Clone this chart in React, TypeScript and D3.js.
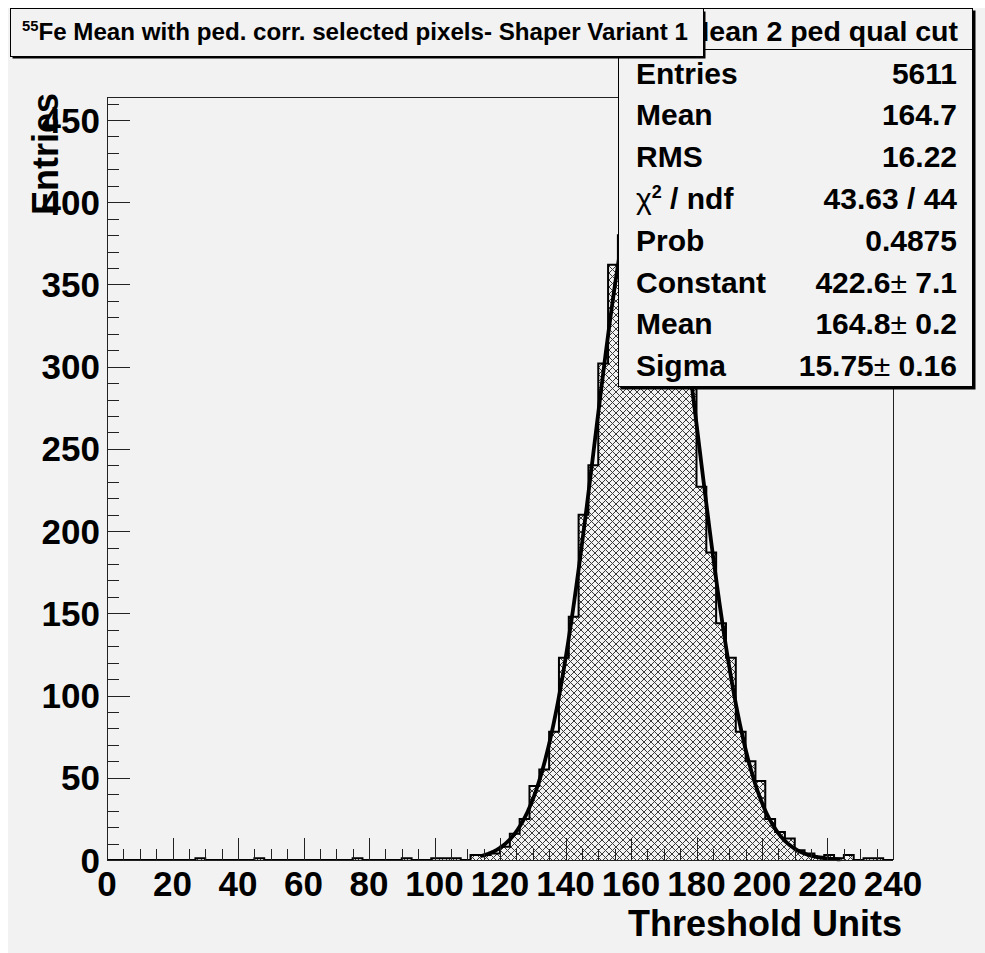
import React from "react";
import * as d3 from "d3";

// ---------- data ----------
const X_MIN = 0;
const X_MAX = 240;
const BIN_WIDTH = 3;
const Y_MAX = 464;

// 80 bins of width 3 over [0, 240]
const COUNTS = [
  0, 0, 0, 0, 0, 0, 0, 0, 0, 1,
  0, 0, 0, 0, 0, 1, 0, 0, 0, 0,
  0, 0, 0, 0, 0, 1, 0, 0, 0, 0,
  1, 0, 0, 1, 1, 1, 0, 3, 3, 4,
  8, 16, 25, 45, 55, 78, 123, 148, 210, 240,
  302, 362, 380, 400, 425, 442, 410, 380, 340, 300,
  227, 187, 144, 123, 78, 60, 48, 25, 17, 13,
  6, 4, 2, 3, 1, 3, 0, 1, 1, 0,
];

const X_TICK_LABELS = [0, 20, 40, 60, 80, 100, 120, 140, 160, 180, 200, 220, 240];
const Y_TICK_LABELS = [0, 50, 100, 150, 200, 250, 300, 350, 400, 450];

const TITLE_SUP = "55";
const TITLE_MAIN = "Fe Mean with ped. corr. selected pixels- Shaper Variant 1";
const X_TITLE = "Threshold Units";
const Y_TITLE = "Entries";
const STATS_HEADER = "FeMean 2 ped qual cut";
const STATS_LABELS = ["Entries", "Mean", "RMS", "chi2", "Prob", "Constant", "Mean", "Sigma"];
const STATS_VALUES = ["5611", "164.7", "16.22", "43.63 / 44", "0.4875", "422.6± 7.1", "164.8± 0.2", "15.75± 0.16"];

const FIT_CONSTANT = 422.6;
const FIT_MEAN = 164.8;
const FIT_SIGMA = 15.75;
const FIT_FROM = 114;
const FIT_TO = 224;

const FONT = "'Liberation Sans', Arial, Helvetica, sans-serif";

export default function App() {
  const L = 107, R = 893, T = 97, B = 860;
  const x = d3.scaleLinear().domain([X_MIN, X_MAX]).range([L, R]);
  const y = d3.scaleLinear().domain([0, Y_MAX]).range([B, T]);

  const bins = COUNTS.map((c, i) => ({ x0: X_MIN + i * BIN_WIDTH, x1: X_MIN + (i + 1) * BIN_WIDTH, c }));

  const outline = d3.path();
  outline.moveTo(x(bins[0].x0), y(0));
  bins.forEach((b) => {
    outline.lineTo(x(b.x0), y(b.c));
    outline.lineTo(x(b.x1), y(b.c));
  });
  outline.lineTo(x(X_MAX), y(0));
  const outlineD = outline.toString();
  const fillD = outlineD + "Z";

  const gauss = (v: number) => FIT_CONSTANT * Math.exp(-0.5 * Math.pow((v - FIT_MEAN) / FIT_SIGMA, 2));
  const fitPts: [number, number][] = d3.range(FIT_FROM, FIT_TO + 0.001, 0.25).map((v) => [v, gauss(v)]);
  const fitLine = d3.line<[number, number]>().x((d) => x(d[0])).y((d) => y(d[1]))(fitPts) || "";

  const xTicks = d3.range(X_MIN, X_MAX + 0.001, 5);
  const yTicks = d3.range(0, 461, 10);

  const s = 7;
  const statsRowY = (i: number) => 83.5 + 41.8 * i;

  const renderValue = (v: string) => {
    if (v.includes("±")) {
      const [a, b] = v.split("±");
      return (
        <>
          {a}
          <tspan fontWeight="normal">±</tspan>
          {b}
        </>
      );
    }
    return v;
  };

  const renderLabel = (l: string) => {
    if (l === "chi2") {
      return (
        <>
          <tspan fontWeight="normal">χ</tspan>
          <tspan fontSize={18} dy={-11}>2</tspan>
          <tspan dy={11}> / ndf</tspan>
        </>
      );
    }
    return l;
  };

  return (
    <svg
      width={985}
      height={953}
      style={{ position: "absolute", left: 0, top: 0, display: "block" }}
      fontFamily={FONT}
    >
      <defs>
        <pattern id="hatch" patternUnits="userSpaceOnUse" width={s} height={s}>
          <path
            d={`M0,${s} L${s},0 M-1,1 L1,-1 M${s - 1},${s + 1} L${s + 1},${s - 1} M0,0 L${s},${s} M-1,${s - 1} L1,${s + 1} M${s - 1},-1 L${s + 1},1`}
            stroke="#3a3a3a"
            strokeWidth={1}
            fill="none"
          />
        </pattern>
        <clipPath id="headerClip">
          <rect x={618} y={8} width={355} height={42} />
        </clipPath>
      </defs>

      <rect x={0} y={0} width={985} height={953} fill="#ffffff" />
      <rect x={8} y={8} width={977} height={945} fill="#f2f2f2" />

      {/* histogram */}
      <path d={fillD} fill="url(#hatch)" stroke="none" />
      <path d={outlineD} fill="none" stroke="#000" strokeWidth={2} strokeLinejoin="miter" />

      {/* fit */}
      <path d={fitLine} fill="none" stroke="#000" strokeWidth={3.8} strokeLinejoin="round" />

      {/* frame */}
      <line x1={L} x2={R} y1={T + 0.5} y2={T + 0.5} stroke="#222" strokeWidth={1} />
      <line x1={R + 0.5} x2={R + 0.5} y1={T} y2={B} stroke="#222" strokeWidth={1} />
      <line x1={L + 0.5} x2={L + 0.5} y1={T} y2={B} stroke="#222" strokeWidth={1} />
      <line x1={L} x2={R} y1={B + 0.5} y2={B + 0.5} stroke="#222" strokeWidth={1} />

      {/* x ticks */}
      {xTicks.map((v) => (
        <line
          key={"xt" + v}
          x1={Math.round(x(v)) + 0.5}
          x2={Math.round(x(v)) + 0.5}
          y1={B}
          y2={B - (v % 20 === 0 ? 22 : 11)}
          stroke="#222"
          strokeWidth={1}
        />
      ))}
      {/* y ticks */}
      {yTicks.map((v) => (
        <line
          key={"yt" + v}
          x1={L}
          x2={L + (v % 50 === 0 ? 23 : 12)}
          y1={Math.round(y(v)) + 0.5}
          y2={Math.round(y(v)) + 0.5}
          stroke="#222"
          strokeWidth={1}
        />
      ))}

      {/* x labels */}
      {X_TICK_LABELS.map((v) => (
        <text key={"xl" + v} x={x(v)} y={896} textAnchor="middle" fontSize={35} fontWeight="bold" fill="#000">
          {v}
        </text>
      ))}
      {/* y labels */}
      {Y_TICK_LABELS.map((v) => (
        <text key={"yl" + v} x={100} y={y(v) + 12.5} textAnchor="end" fontSize={35} fontWeight="bold" fill="#000">
          {v}
        </text>
      ))}

      {/* axis titles */}
      <text x={902} y={936} textAnchor="end" fontSize={36} fontWeight="bold" fill="#000">
        {X_TITLE}
      </text>
      <text transform="translate(58,93) rotate(-90)" textAnchor="end" fontSize={36} fontWeight="bold" fill="#000">
        {Y_TITLE}
      </text>

      {/* stats box */}
      <rect x={620.5} y={10.5} width={355} height={379} fill="#000" />
      <rect x={618.5} y={8.5} width={354} height={378} fill="#f2f2f2" stroke="#000" strokeWidth={1} />
      <line x1={618.5} x2={972.5} y1={49.5} y2={49.5} stroke="#000" strokeWidth={1} />
      <text x={958} y={41} textAnchor="end" fontSize={28.5} fontWeight="bold" fill="#000" clipPath="url(#headerClip)">
        {STATS_HEADER}
      </text>
      {STATS_LABELS.map((l, i) => (
        <text key={"sl" + i} x={636} y={statsRowY(i)} fontSize={30} fontWeight="bold" fill="#000">
          {renderLabel(l)}
        </text>
      ))}
      {STATS_VALUES.map((v, i) => (
        <text key={"sv" + i} x={957} y={statsRowY(i)} textAnchor="end" fontSize={30} fontWeight="bold" fill="#000">
          {renderValue(v)}
        </text>
      ))}

      {/* title box */}
      <rect x={12.5} y={11.5} width={693} height={47} fill="#000" />
      <rect x={10.5} y={8.5} width={693} height={48} fill="#f2f2f2" stroke="#000" strokeWidth={1} />
      <text x={22} y={40} fontSize={24.5} fontWeight="bold" fill="#000" textLength={666} lengthAdjust="spacingAndGlyphs">
        <tspan fontSize={15} dy={-9}>{TITLE_SUP}</tspan>
        <tspan dy={9}>{TITLE_MAIN}</tspan>
      </text>
    </svg>
  );
}
